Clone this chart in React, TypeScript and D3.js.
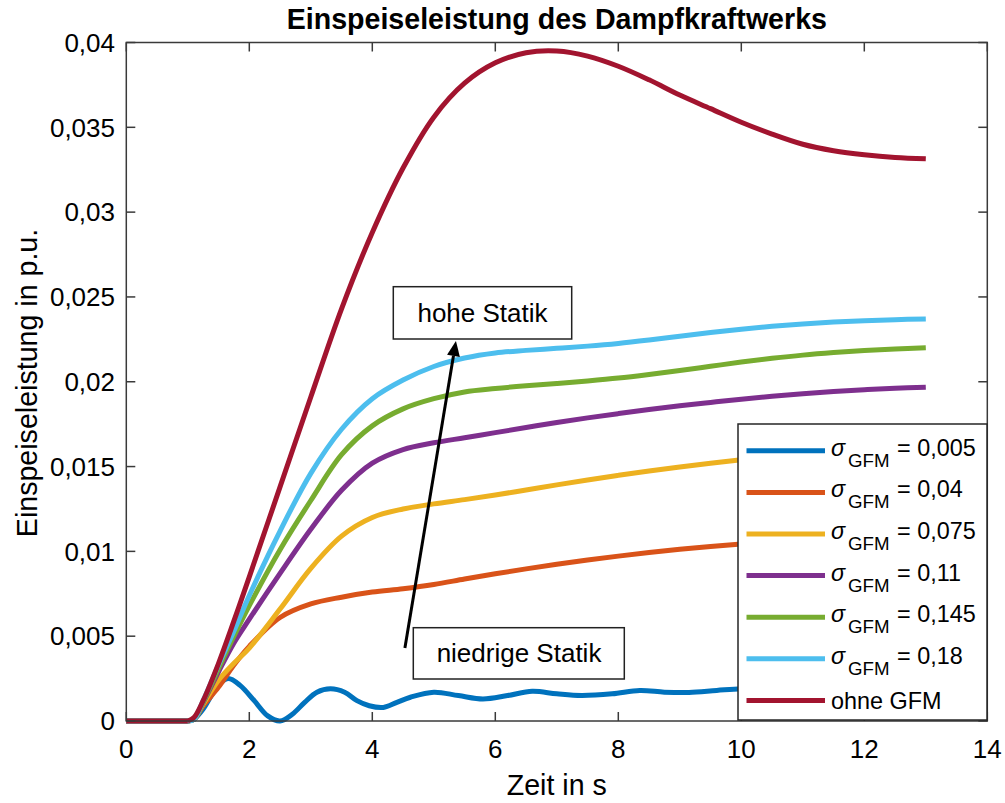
import React from "react";
import * as d3 from "d3";

// Time axis (s) shared by the smooth responses
const time = [0, 1.0, 1.1, 1.25, 1.5, 1.75, 2.0, 2.5, 3.0, 3.5, 4.0, 4.5, 5.0, 5.5, 6, 6.5, 7, 7.5, 8, 8.5, 9, 9.5, 10, 10.5, 11, 11.5, 12, 12.5, 13];

// Feed-in power (p.u.) per droop setting
const sigma040 = [0, 0, 0.0001, 0.0009, 0.0020, 0.0033, 0.0044, 0.0061, 0.0069, 0.0073, 0.0076, 0.0078, 0.00805, 0.00837, 0.00868, 0.00897, 0.00924, 0.00949, 0.00972, 0.00993, 0.01012, 0.01029, 0.01044, 0.01057, 0.01069, 0.0108, 0.0109, 0.01098, 0.01105];
const sigma075 = [0, 0, 0.0001, 0.0010, 0.0024, 0.0034, 0.0043, 0.0066, 0.0090, 0.0109, 0.0120, 0.0125, 0.0128, 0.01305, 0.01332, 0.01362, 0.01392, 0.01421, 0.01448, 0.01474, 0.01498, 0.0152, 0.0154, 0.01557, 0.01572, 0.01585, 0.01597, 0.01607, 0.01616];
const sigma110 = [0, 0, 0.0001, 0.0011, 0.0029, 0.0046, 0.0060, 0.0087, 0.0113, 0.0136, 0.0152, 0.0160, 0.0164, 0.0167, 0.0170, 0.0173, 0.0176, 0.01787, 0.01812, 0.01836, 0.01858, 0.01878, 0.01897, 0.01914, 0.01929, 0.01942, 0.01953, 0.01962, 0.01968];
const sigma145 = [0, 0, 0.0001, 0.0011, 0.0031, 0.0050, 0.0068, 0.0101, 0.0130, 0.0157, 0.0174, 0.0184, 0.0190, 0.0194, 0.0196, 0.01976, 0.0199, 0.02005, 0.02022, 0.02043, 0.02066, 0.02091, 0.02116, 0.02138, 0.02157, 0.02172, 0.02184, 0.02193, 0.022];
const sigma180 = [0, 0, 0.0001, 0.0012, 0.0033, 0.0053, 0.0074, 0.0112, 0.0146, 0.0172, 0.0190, 0.0201, 0.0209, 0.0214, 0.0217, 0.02185, 0.02197, 0.0221, 0.02226, 0.02246, 0.02268, 0.0229, 0.0231, 0.02327, 0.02341, 0.02352, 0.0236, 0.02366, 0.0237];
const ohneGFM = [0, 0, 0.0002, 0.0012, 0.0034, 0.0059, 0.0085, 0.0138, 0.0191, 0.0243, 0.0288, 0.0326, 0.0356, 0.0376, 0.0388, 0.0394, 0.0395, 0.0392, 0.0386, 0.0378, 0.0369, 0.0361, 0.0353, 0.0346, 0.0340, 0.03362, 0.03338, 0.03322, 0.03314];

// The oscillating low-droop case has its own sample times
const timeLow = [0, 1.0, 1.1, 1.25, 1.4, 1.52, 1.66, 1.85, 2.08, 2.3, 2.5, 2.7, 2.9, 3.1, 3.32, 3.55, 3.75, 3.95, 4.18, 4.4, 4.62, 5.0, 5.4, 5.8, 6.2, 6.6, 7.0, 7.4, 7.9, 8.35, 8.75, 9.15, 9.6, 10.0, 10.5, 11, 12, 13];
const sigma005 = [0, 0, 0.0001, 0.0007, 0.0016, 0.0022, 0.0025, 0.0021, 0.0012, 0.0003, 0, 0.0004, 0.0011, 0.0017, 0.0019, 0.0017, 0.0012, 0.0009, 0.0008, 0.0011, 0.0014, 0.0017, 0.0015, 0.0013, 0.0015, 0.00175, 0.0016, 0.0015, 0.0016, 0.0018, 0.0017, 0.00168, 0.0018, 0.0019, 0.0019, 0.0020, 0.0021, 0.0022];

const legendValues = ["0,005", "0,04", "0,075", "0,11", "0,145", "0,18"];
const legendOhne = "ohne GFM";
const colors = ["#0072BD", "#D95319", "#EDB120", "#7E2F8E", "#77AC30", "#4DBEEE", "#A2142F"];

const xTicks = [0, 2, 4, 6, 8, 10, 12, 14];
const yTicks = [0, 0.005, 0.01, 0.015, 0.02, 0.025, 0.03, 0.035, 0.04];

const titleText = "Einspeiseleistung des Dampfkraftwerks";
const xLabel = "Zeit in s";
const yLabel = "Einspeiseleistung in p.u.";
const noteHigh = "hohe Statik";
const noteLow = "niedrige Statik";
const arrowFrom = [4.53, 0.0043];
const arrowTo = [5.36, 0.0224];

const FONT = "'Liberation Sans', Arial, Helvetica, sans-serif";
const AX = "#3a3a3a";

const de = d3.formatLocale({ decimal: ",", thousands: ".", grouping: [3], currency: ["", " €"] });
const fmt = de.format("~g");

function T({ x, y, size = 26, anchor = "start", weight = "normal", italic = false, rotate = 0, children }: any) {
  const tr = `translate(${x},${y})` + (rotate ? ` rotate(${rotate})` : "");
  return (
    <text transform={tr} fontSize={size} textAnchor={anchor} fontWeight={weight} fontStyle={italic ? "italic" : "normal"} fontFamily={FONT} fill="#000">
      {children}
    </text>
  );
}

type Pt = [number, number];

export default function App() {
  const W = 1005, H = 803;
  const x = d3.scaleLinear().domain([0, 14]).range([126.3, 987.3]);
  const y = d3.scaleLinear().domain([0, 0.04]).range([721, 42.5]);
  const flat = d3.line<Pt>().x((d) => x(d[0])).y((d) => y(d[1]));
  const smooth = d3.line<Pt>().x((d) => x(d[0])).y((d) => y(d[1])).curve(d3.curveCatmullRom.alpha(0.5));

  // idle segment before the step is straight, the response is a smooth spline
  const pathFor = (t: number[], v: number[]) => {
    const pts: Pt[] = t.map((tt, k) => [tt, v[k]]);
    let k = 0;
    while (k + 1 < pts.length && pts[k + 1][1] === 0) k++;
    return (flat(pts.slice(0, k + 1)) || "") + (smooth(pts.slice(k)) || "");
  };

  const series: { t: number[]; v: number[] }[] = [
    { t: timeLow, v: sigma005 },
    { t: time, v: sigma040 },
    { t: time, v: sigma075 },
    { t: time, v: sigma110 },
    { t: time, v: sigma145 },
    { t: time, v: sigma180 },
    { t: time, v: ohneGFM },
  ];

  const [x0, x1] = x.range();
  const [yb, yt] = y.range();
  const tickLen = 9;

  // arrow geometry
  const ax0 = x(arrowFrom[0]), ay0 = y(arrowFrom[1]);
  const ax1 = x(arrowTo[0]), ay1 = y(arrowTo[1]);
  const ang = Math.atan2(ay1 - ay0, ax1 - ax0);
  const headL = 15, headW = 6.5;
  const bx = ax1 - headL * Math.cos(ang), by = ay1 - headL * Math.sin(ang);
  const px = -Math.sin(ang), py = Math.cos(ang);
  const head = `${ax1},${ay1} ${bx + headW * px},${by + headW * py} ${bx - headW * px},${by - headW * py}`;

  // legend layout
  const lgX0 = 738, lgY0 = 424, lgX1 = 987, lgY1 = 720;
  const rowY = (i: number) => 450.8 + 41.6 * i;

  return (
    <div style={{ position: "absolute", left: 0, top: 0 }}>
      <svg width={W} height={H} viewBox={`0 0 ${W} ${H}`} style={{ display: "block", background: "#fff" }}>
        <rect x={0} y={0} width={W} height={H} fill="#fff" />

        {/* curves */}
        <g fill="none" strokeWidth={5} strokeLinejoin="round">
          {series.map((s, i) => (
            <path key={i} d={pathFor(s.t, s.v)} stroke={colors[i]} />
          ))}
        </g>

        {/* axes box with inward ticks */}
        <g stroke={AX} strokeWidth={1.5} fill="none">
          <rect x={x0} y={yt} width={x1 - x0} height={yb - yt} />
          {xTicks.map((t) => (
            <g key={"xt" + t}>
              <line x1={x(t)} x2={x(t)} y1={yb} y2={yb - tickLen} />
              <line x1={x(t)} x2={x(t)} y1={yt} y2={yt + tickLen} />
            </g>
          ))}
          {yTicks.map((v) => (
            <g key={"yt" + v}>
              <line x1={x0} x2={x0 + tickLen} y1={y(v)} y2={y(v)} />
              <line x1={x1} x2={x1 - tickLen} y1={y(v)} y2={y(v)} />
            </g>
          ))}
        </g>

        {/* tick labels */}
        {xTicks.map((t) => (
          <T key={"xl" + t} x={x(t)} y={758} anchor="middle">{fmt(t)}</T>
        ))}
        {yTicks.map((v) => (
          <T key={"yl" + v} x={115} y={y(v) + 9.3} anchor="end">{fmt(v)}</T>
        ))}

        {/* titles */}
        <T x={(x0 + x1) / 2} y={29} anchor="middle" weight="bold" size={28.6}>{titleText}</T>
        <T x={(x0 + x1) / 2} y={795} anchor="middle" size={28.6}>{xLabel}</T>
        <T x={37} y={383} anchor="middle" rotate={-90} size={28.6}>{yLabel}</T>

        {/* annotations */}
        <rect x={393.3} y={286.7} width={178.4} height={52.3} fill="#fff" stroke="#222" strokeWidth={1.5} />
        <T x={482.5} y={322} anchor="middle">{noteHigh}</T>
        <rect x={413.3} y={627.7} width={211} height={51.3} fill="#fff" stroke="#222" strokeWidth={1.5} />
        <T x={519} y={662} anchor="middle">{noteLow}</T>
        <line x1={ax0} y1={ay0} x2={bx} y2={by} stroke="#000" strokeWidth={3} />
        <polygon points={head} fill="#000" />

        {/* legend */}
        <rect x={lgX0} y={lgY0} width={lgX1 - lgX0} height={lgY1 - lgY0} fill="#fff" stroke="#262626" strokeWidth={1.5} />
        {colors.map((c, i) => (
          <g key={"lg" + i}>
            <line x1={746.5} x2={825} y1={rowY(i)} y2={rowY(i)} stroke={c} strokeWidth={5} />
            {i < legendValues.length ? (
              <g>
                <T x={831} y={rowY(i) + 5} size={23.4} italic>σ</T>
                <T x={848} y={rowY(i) + 16} size={18.7}>GFM</T>
                <T x={897} y={rowY(i) + 5} size={23.4}>{"= " + legendValues[i]}</T>
              </g>
            ) : (
              <T x={831} y={rowY(i) + 8.5} size={23.4}>{legendOhne}</T>
            )}
          </g>
        ))}
      </svg>
    </div>
  );
}
